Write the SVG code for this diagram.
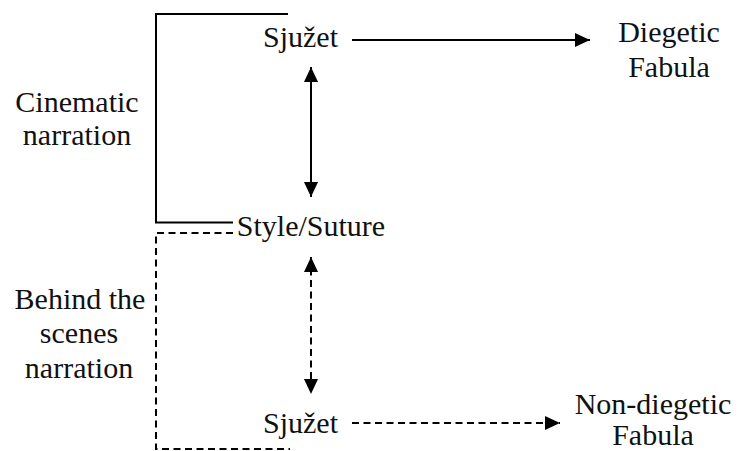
<svg xmlns="http://www.w3.org/2000/svg" width="738" height="451" viewBox="0 0 738 451">
<defs>
<style>
text{font-family:"Liberation Serif","Times New Roman","DejaVu Serif",serif;font-size:30px;fill:#111;text-anchor:middle}
.ln{stroke:#000;stroke-width:2;fill:none}
.ds{stroke-dasharray:7 4.5}
</style>
<marker id="ah" viewBox="0 0 15 14" refX="15" refY="7" markerWidth="15" markerHeight="14" markerUnits="userSpaceOnUse" orient="auto-start-reverse">
<path d="M0,0 L15,7 L0,14 Z" fill="#000"/>
</marker>
</defs>
<rect width="738" height="451" fill="#fff"/>
<g id="connectors">
<path class="ln" d="M288,14 H156 V222.5 H233"/>
<path class="ln ds" d="M233,233 H156 V449 H290"/>
<line class="ln" x1="352" y1="40" x2="590" y2="40" marker-end="url(#ah)"/>
<line class="ln" x1="311" y1="67" x2="311" y2="197" marker-start="url(#ah)" marker-end="url(#ah)"/>
<line class="ln ds" x1="311" y1="257" x2="311" y2="394" marker-start="url(#ah)" marker-end="url(#ah)"/>
<line class="ln ds" x1="352" y1="423" x2="560" y2="423" marker-end="url(#ah)"/>
</g>
<g id="sjuzet-top"><text x="300.5" y="47">Sjužet</text></g>
<g id="diegetic-fabula"><text x="669" y="42">Diegetic</text><text x="669" y="77">Fabula</text></g>
<g id="style-suture"><text x="311" y="236">Style/Suture</text></g>
<g id="sjuzet-bottom"><text x="300.5" y="433">Sjužet</text></g>
<g id="nondiegetic-fabula"><text x="653" y="414">Non-diegetic</text><text x="653" y="445">Fabula</text></g>
<g id="cinematic-narration"><text x="77" y="112">Cinematic</text><text x="77" y="145">narration</text></g>
<g id="behind-scenes-narration"><text x="80" y="309">Behind the</text><text x="79" y="343">scenes</text><text x="79" y="378">narration</text></g>
</svg>
